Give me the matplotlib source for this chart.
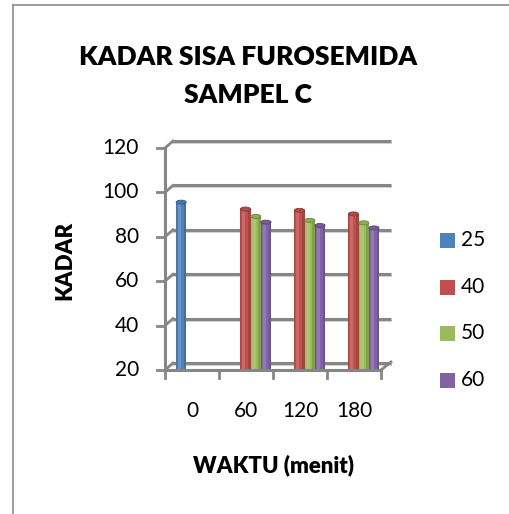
import matplotlib
matplotlib.use("Agg")
import matplotlib.pyplot as plt
import matplotlib.transforms as mtransforms
from matplotlib.patches import Rectangle, Ellipse
from matplotlib.lines import Line2D
import numpy as np

categories = ["0", "60", "120", "180"]
series_names = ["25", "40", "50", "60"]
values = {
    "25": [95.6, None, None, None],
    "40": [None, 92.5, 91.9, 90.3],
    "50": [None, 89.2, 87.4, 86.3],
    "60": [None, 86.6, 85.1, 84.0],
}
colors = ["#4F81BD", "#C0504D", "#9BBB59", "#8064A2"]
yticks = [20, 40, 60, 80, 100, 120]

FONT = "Lato"
W, H = 510, 514
fig = plt.figure(figsize=(W / 100, H / 100), dpi=100)

# chart border (left & top visible)
fig.add_artist(Line2D([13 / W, 13 / W], [0, 1 - 5 / H], transform=fig.transFigure, color="#8c8c8c", lw=1.2))
fig.add_artist(Line2D([13 / W, 1], [1 - 5 / H, 1 - 5 / H], transform=fig.transFigure, color="#8c8c8c", lw=1.2))

ax = fig.add_axes([165 / W, 1 - 370 / H, 216 / W, 222 / H])
ax.set_xlim(-0.5, 3.5)
ax.set_ylim(20, 120)
ax.axis("off")

dx, dy = 8, 7
back = mtransforms.offset_copy(ax.transData, fig=fig, x=dx, y=dy, units="dots")
shadow = mtransforms.offset_copy(ax.transData, fig=fig, x=dx, y=dy - 2, units="dots")

grid_c = "#868686"
for yv in yticks:
    ax.plot([-0.5, 3.5 + 0.04], [yv, yv], transform=shadow, color="#d4d4d4", lw=1.5, clip_on=False, zorder=1)
    ax.plot([-0.5, 3.5 + 0.04], [yv, yv], transform=back, color=grid_c, lw=2.2, clip_on=False, zorder=2,
            solid_capstyle="butt")


def disp_line(x0, y0, ox, oy, **kw):
    p = ax.transData.transform((x0, y0))
    fig.add_artist(Line2D([p[0] / W, (p[0] + ox) / W], [p[1] / H, (p[1] + oy) / H],
                          transform=fig.transFigure, **kw))


for yv in yticks:
    disp_line(-0.5, yv, dx, dy, color=grid_c, lw=2.0, zorder=2)
disp_line(3.5, 20, dx + 2, dy + 1, color=grid_c, lw=2.0, zorder=2)

# front axes lines
ax.plot([-0.5, -0.5], [20, 120], color=grid_c, lw=2.2, clip_on=False, zorder=3)
ax.plot([-0.5, 3.5], [20, 20], color=grid_c, lw=2.2, clip_on=False, zorder=6)
for yv in yticks:
    p = ax.transData.transform((-0.5, yv))
    fig.add_artist(Line2D([(p[0] - 8) / W, p[0] / W], [p[1] / H, p[1] / H], transform=fig.transFigure,
                          color=grid_c, lw=2.0))
    ax.text(-0.5, yv, str(yv), transform=mtransforms.offset_copy(ax.transData, fig=fig, x=-26, y=0, units="dots"),
            ha="right", va="center", fontsize=15, family=FONT, color="#000000")
for xb in np.arange(-0.5, 3.6, 1.0):
    p = ax.transData.transform((xb, 20))
    fig.add_artist(Line2D([p[0] / W, p[0] / W], [p[1] / H, (p[1] - 8) / H], transform=fig.transFigure,
                          color=grid_c, lw=2.0))
for i, c in enumerate(categories):
    ax.text(i, 20, c, transform=mtransforms.offset_copy(ax.transData, fig=fig, x=0, y=-41, units="dots"),
            ha="center", va="center", fontsize=15, family=FONT, color="#000000")


def lighten(c, f):
    r = np.array(matplotlib.colors.to_rgb(c))
    return tuple(r + (1 - r) * f)


def darken(c, f):
    r = np.array(matplotlib.colors.to_rgb(c))
    return tuple(r * (1 - f))


bw = 0.19
step = 0.19
start = -0.2
ell_h = 0.9
for si, name in enumerate(series_names):
    col = colors[si]
    for ci, v in enumerate(values[name]):
        if v is None:
            continue
        x0 = ci + start + si * step - bw / 2
        z = 5
        ax.add_patch(Rectangle((x0, 20), bw, v - 20, facecolor=col, edgecolor="none", zorder=z))
        ax.add_patch(Rectangle((x0 + bw * 0.18, 20), bw * 0.3, v - 20, facecolor=lighten(col, 0.15),
                               edgecolor="none", zorder=z))
        ax.add_patch(Rectangle((x0 + bw * 0.75, 20), bw * 0.25, v - 20, facecolor=darken(col, 0.15),
                               edgecolor="none", zorder=z))
        ax.add_patch(Rectangle((x0, 20), bw * 0.08, v - 20, facecolor=darken(col, 0.12),
                               edgecolor="none", zorder=z))
        ax.add_patch(Ellipse((x0 + bw / 2, v), bw, ell_h * 2, facecolor=darken(col, 0.08),
                             edgecolor=darken(col, 0.3), lw=0.6, zorder=z + 0.5))

# title and axis labels
fig.text(248 / W, 1 - 57 / H, "KADAR SISA FUROSEMIDA", ha="center", va="center", fontsize=19,
         fontweight="heavy", family=FONT)
fig.text(248 / W, 1 - 95 / H, "SAMPEL C", ha="center", va="center", fontsize=19,
         fontweight="heavy", family=FONT)
fig.text(274 / W, 1 - 465 / H, "WAKTU (menit)", ha="center", va="center", fontsize=16,
         fontweight="heavy", family=FONT)
fig.text(65 / W, 1 - 260 / H, "KADAR", ha="center", va="center", fontsize=16, rotation=90,
         fontweight="heavy", family=FONT)

# legend
leg_y = [240, 287, 333, 380]
for si, name in enumerate(series_names):
    yc = leg_y[si]
    fig.add_artist(Rectangle((440 / W, 1 - (yc + 7.5) / H), 15 / W, 15 / H, transform=fig.transFigure,
                             facecolor=colors[si], edgecolor="none"))
    fig.text(461 / W, 1 - yc / H, name, ha="left", va="center", fontsize=15, family=FONT)

fig.savefig("out.png", dpi=100)
